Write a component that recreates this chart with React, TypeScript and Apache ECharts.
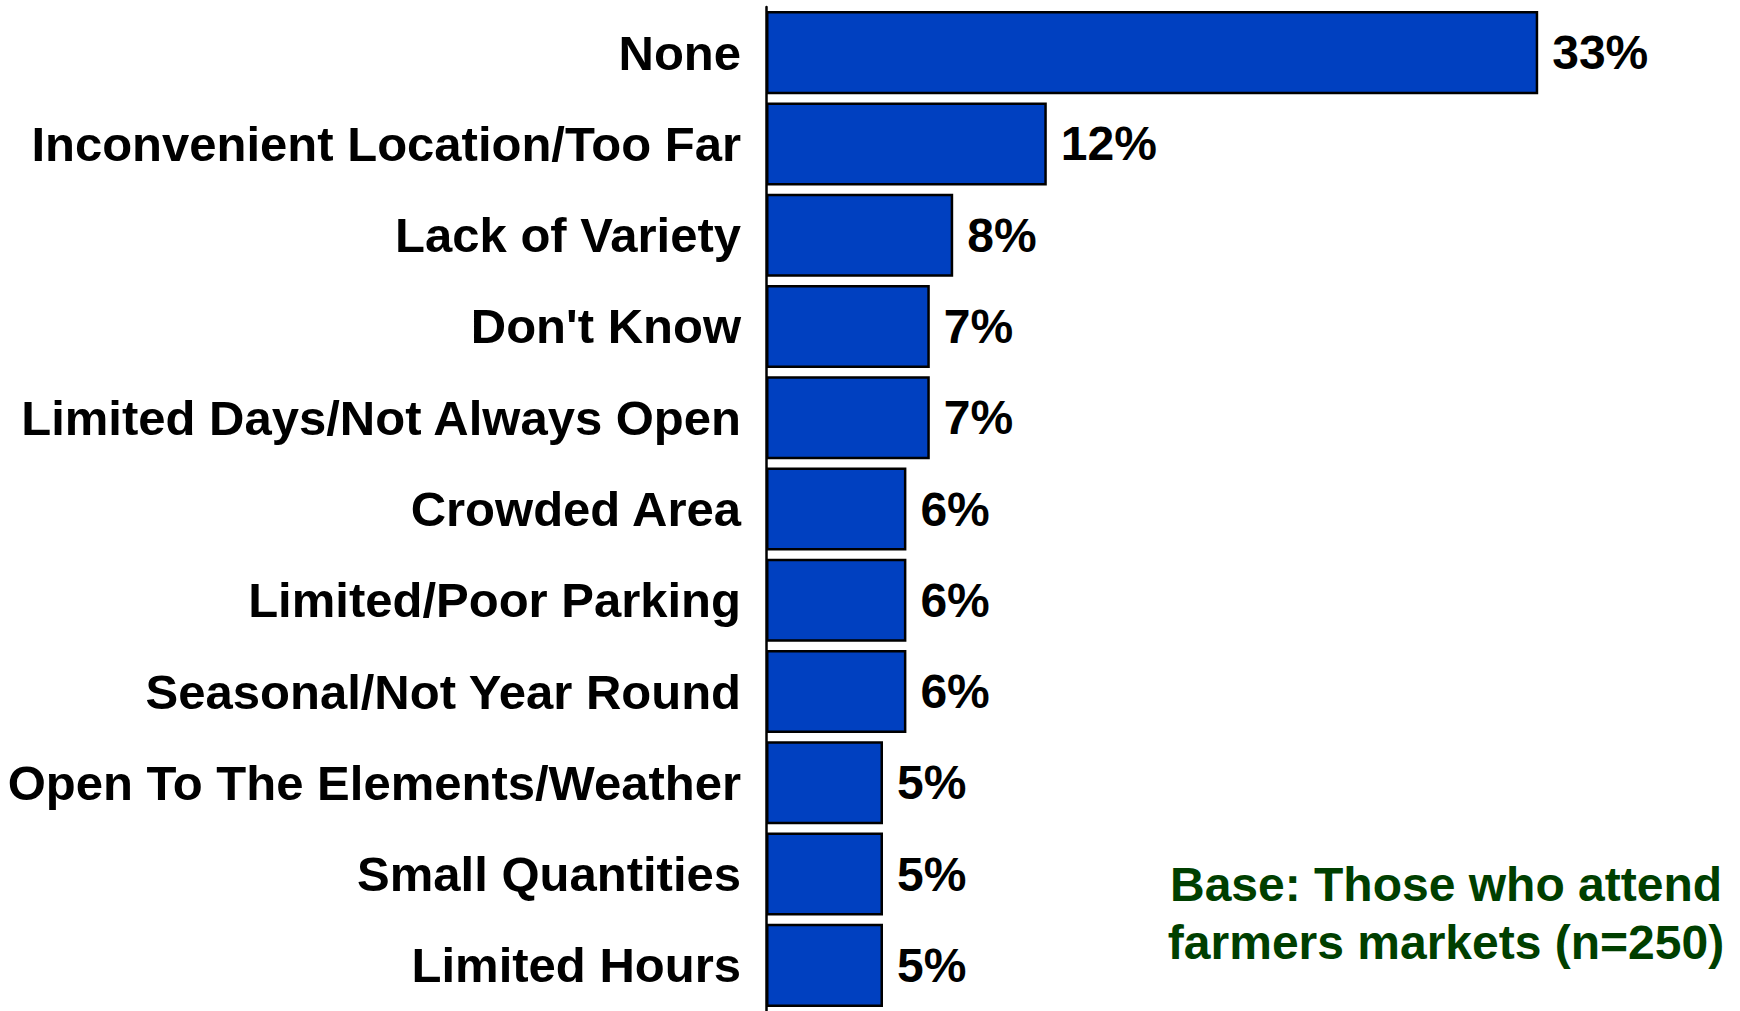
import React, { useEffect, useRef } from "react";
import * as echarts from "echarts";

const categories = [
  "None",
  "Inconvenient Location/Too Far",
  "Lack of Variety",
  "Don't Know",
  "Limited Days/Not Always Open",
  "Crowded Area",
  "Limited/Poor Parking",
  "Seasonal/Not Year Round",
  "Open To The Elements/Weather",
  "Small Quantities",
  "Limited Hours",
];
const values = [33, 12, 8, 7, 7, 6, 6, 6, 5, 5, 5];
const noteLines = ["Base: Those who attend", "farmers markets (n=250)"];

const FONT = "'Liberation Sans', Arial, Helvetica, sans-serif";

export default function App() {
  const ref = useRef<HTMLDivElement>(null);
  useEffect(() => {
    document.body.style.margin = "0";
    const chart = echarts.init(ref.current!, null, { renderer: "svg" });
    chart.setOption({
      animation: false,
      backgroundColor: "#ffffff",
      grid: { left: 766, top: 7, width: 936, height: 1006, containLabel: false },
      xAxis: {
        type: "value",
        min: 0,
        max: 40,
        show: false,
      },
      yAxis: {
        type: "category",
        data: categories,
        inverse: true,
        axisLine: { show: true, lineStyle: { color: "#000000", width: 2.5 } },
        axisTick: { show: false },
        splitLine: { show: false },
        axisLabel: {
          margin: 25,
          fontFamily: FONT,
          fontWeight: "bold",
          fontSize: 49,
          color: "#000000",
        },
      },
      series: [
        {
          type: "bar",
          data: values,
          barCategoryGap: "9%",
          itemStyle: { color: "#0040C0", borderColor: "#000000", borderWidth: 2.5 },
          label: {
            show: true,
            position: "right",
            distance: 14,
            formatter: "{c}%",
            fontFamily: FONT,
            fontWeight: "bold",
            fontSize: 48,
            color: "#000000",
          },
        },
      ],
      graphic: noteLines.map((t, i) => ({
        type: "text",
        x: 1446,
        y: 884 + i * 58,
        style: {
          text: t,
          fontFamily: FONT,
          fontWeight: "bold",
          fontSize: 48,
          fill: "#003f00",
          textAlign: "center",
          textVerticalAlign: "middle",
        },
      })),
    });
    return () => chart.dispose();
  }, []);
  return (
    <div
      ref={ref}
      style={{ position: "fixed", left: 0, top: 0, width: 1740, height: 1011 }}
    />
  );
}
